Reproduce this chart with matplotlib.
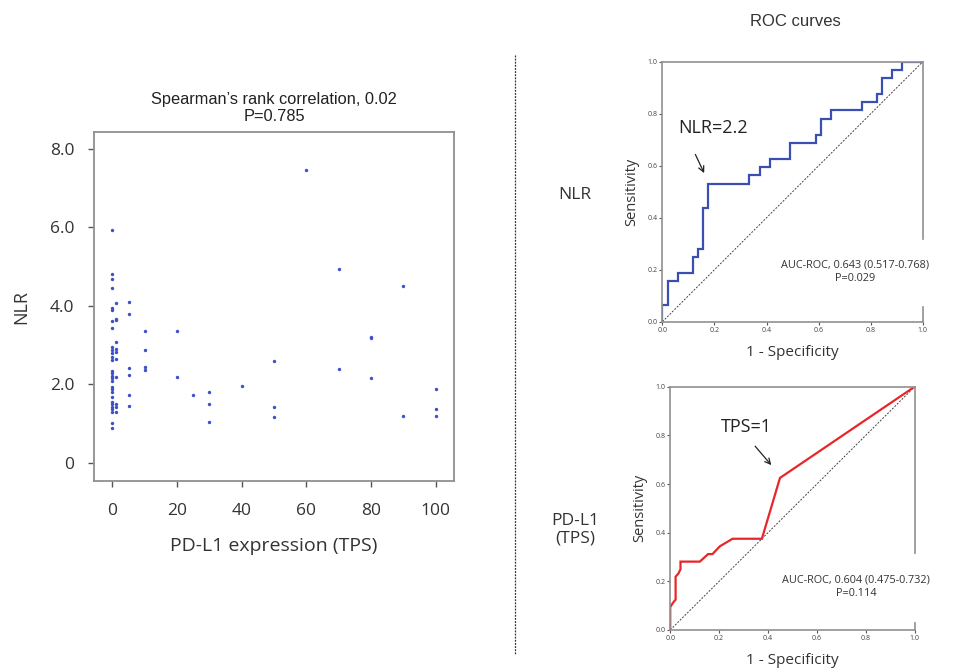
import matplotlib
matplotlib.use('Agg')
import matplotlib.pyplot as plt
from matplotlib.lines import Line2D

plt.rcParams['font.family'] = ['Open Sans', 'DejaVu Sans']

# Scatter data: PD-L1 TPS vs NLR
tps = [0] * 29 + [1] * 11 + [5] * 6 + [10] * 4 + [20] * 2 + [25] + [30] * 3 + [40] \
    + [50] * 3 + [60] + [70] * 2 + [80] * 3 + [90] * 2 + [100] * 3
nlr = [5.93, 4.82, 4.69, 4.45, 3.94, 3.90, 3.61, 3.45, 2.96, 2.88, 2.79, 2.71, 2.62,
       2.35, 2.28, 2.22, 2.17, 2.10, 1.94, 1.88, 1.80, 1.69, 1.56, 1.50, 1.43, 1.37,
       1.30, 1.03, 0.88,
       4.08, 3.67, 3.64, 3.08, 2.90, 2.82, 2.65, 2.18, 1.50, 1.43, 1.30,
       4.10, 3.80, 2.43, 2.24, 1.72, 1.45,
       3.37, 2.88, 2.45, 2.37,
       3.37, 2.20,
       1.73,
       1.80, 1.50, 1.05,
       1.96,
       2.59, 1.42, 1.18,
       7.46,
       4.95, 2.39,
       3.22, 3.19, 2.17,
       4.50, 1.20,
       1.88, 1.37, 1.20]

# ROC curve for NLR
nlr_fpr = [0, 0, 0.020, 0.020, 0.059, 0.059, 0.118, 0.118, 0.137, 0.137, 0.157, 0.157,
           0.176, 0.176, 0.333, 0.333, 0.373, 0.373, 0.412, 0.412, 0.490, 0.490,
           0.588, 0.588, 0.608, 0.608, 0.647, 0.647, 0.765, 0.765, 0.824, 0.824,
           0.843, 0.843, 0.882, 0.882, 0.922, 0.922, 1.0]
nlr_tpr = [0, 0.0625, 0.0625, 0.156, 0.156, 0.1875, 0.1875, 0.25, 0.25, 0.281, 0.281,
           0.4375, 0.4375, 0.531, 0.531, 0.5625, 0.5625, 0.594, 0.594, 0.625, 0.625,
           0.6875, 0.6875, 0.719, 0.719, 0.781, 0.781, 0.8125, 0.8125, 0.844, 0.844,
           0.875, 0.875, 0.9375, 0.9375, 0.969, 0.969, 1.0, 1.0]

# ROC curve for PD-L1 (TPS)
tps_fpr = [0, 0, 0.010, 0.022, 0.022, 0.034, 0.042, 0.042, 0.121, 0.155, 0.173,
           0.203, 0.255, 0.375, 0.449, 1.0]
tps_tpr = [0, 0.094, 0.11, 0.125, 0.219, 0.233, 0.25, 0.281, 0.281, 0.312, 0.312,
           0.344, 0.375, 0.375, 0.625, 1.0]

roc_ticks = [0.0, 0.2, 0.4, 0.6, 0.8, 1.0]

fig = plt.figure(figsize=(9.77, 6.69), dpi=100)

# ---- scatter panel ----
ax = fig.add_axes([0.0962, 0.281, 0.3685, 0.5217])
ax.scatter(tps, nlr, s=6, color='#3f4fc8', linewidths=0)
ax.set_xlim(-5.7, 105.7)
ax.set_ylim(-0.46, 8.43)
ax.set_xticks([0, 20, 40, 60, 80, 100])
ax.set_yticks([0, 2, 4, 6, 8])
ax.set_yticklabels(['0', '2.0', '4.0', '6.0', '8.0'])
for s in ax.spines.values():
    s.set_color('#909090')
    s.set_linewidth(1.3)
ax.tick_params(direction='out', length=4, width=1, color='#555555',
               labelsize=12.5, labelcolor='#333333')
ax.tick_params(axis='x', pad=12)
ax.tick_params(axis='y', pad=10)
ax.set_ylabel('NLR', fontsize=13, color='#333333', labelpad=14)
ax.set_xlabel('PD-L1 expression (TPS)', fontsize=14, color='#333333', labelpad=13)
ax.set_title('Spearman\u2019s rank correlation, 0.02\nP=0.785', fontsize=11.8,
             family='Liberation Sans', color='#222222', pad=8, linespacing=1.15)


def roc_panel(rect, fpr, tpr, color, label, xy_text, xy_from, xy_to,
              auc_text, auc_xy, gap):
    a = fig.add_axes(rect)
    a.plot([0, 1], [0, 1], linestyle=(0, (2, 1.5)), color='#444444', linewidth=0.7)
    a.plot(fpr, tpr, color=color, linewidth=1.6, solid_joinstyle='miter')
    a.set_xlim(0, 1)
    a.set_ylim(0, 1)
    a.set_xticks(roc_ticks)
    a.set_yticks(roc_ticks)
    a.set_xticklabels(['%.1f' % t for t in roc_ticks])
    a.set_yticklabels(['%.1f' % t for t in roc_ticks])
    for s in a.spines.values():
        s.set_color('#909090')
        s.set_linewidth(1.2)
    a.spines['right'].set_visible(False)
    a.plot([1, 1], [gap[1], 1], color='#909090', linewidth=1.2, clip_on=False)
    a.plot([1, 1], [0, gap[0]], color='#909090', linewidth=1.2, clip_on=False)
    a.tick_params(direction='out', length=2, width=0.8, color='#555555',
                  labelsize=5, labelcolor='#444444', pad=1.5)
    a.set_xlabel('1 - Specificity', fontsize=11, color='#333333', labelpad=8)
    a.set_ylabel('Sensitivity', fontsize=10.5, color='#333333', labelpad=6)
    a.text(xy_text[0], xy_text[1], label, fontsize=13, ha='center', va='center',
           color='#222222')
    a.annotate('', xy=xy_to, xytext=xy_from,
               arrowprops=dict(arrowstyle='->', color='#222222', lw=0.9))
    a.text(auc_xy[0], auc_xy[1], auc_text, fontsize=7.8, ha='center', va='center',
           color='#333333', multialignment='center', linespacing=1.3)
    return a


roc_panel([0.678, 0.5191, 0.2665, 0.3886], nlr_fpr, nlr_tpr, '#3a4fb2',
          'NLR=2.2', (0.195, 0.745), (0.122, 0.653), (0.165, 0.562),
          'AUC-ROC, 0.643 (0.517-0.768)\nP=0.029', (0.74, 0.193), (0.056, 0.32))

roc_panel([0.686, 0.0583, 0.2502, 0.3637], tps_fpr, tps_tpr, '#e8262a',
          'TPS=1', (0.313, 0.836), (0.34, 0.764), (0.421, 0.669),
          'AUC-ROC, 0.604 (0.475-0.732)\nP=0.114', (0.76, 0.179), (0.03, 0.317))

# divider, headings
fig.add_artist(Line2D([515 / 977, 515 / 977], [1 - 55 / 669, 1 - 655 / 669],
                      linestyle=(0, (1.5, 1)), color='#333333', linewidth=0.9))
fig.text(795 / 977, 1 - 22 / 669, 'ROC curves', fontsize=12, ha='center', va='center',
         color='#333333', family='Liberation Sans')
fig.text(575 / 977, 1 - 195 / 669, 'NLR', fontsize=12.5, ha='center', va='center',
         color='#333333')
fig.text(575 / 977, 1 - 530 / 669, 'PD-L1\n(TPS)', fontsize=12.5, ha='center',
         va='center', color='#333333', linespacing=1.1)

fig.savefig('out.png', dpi=100, facecolor='white')
